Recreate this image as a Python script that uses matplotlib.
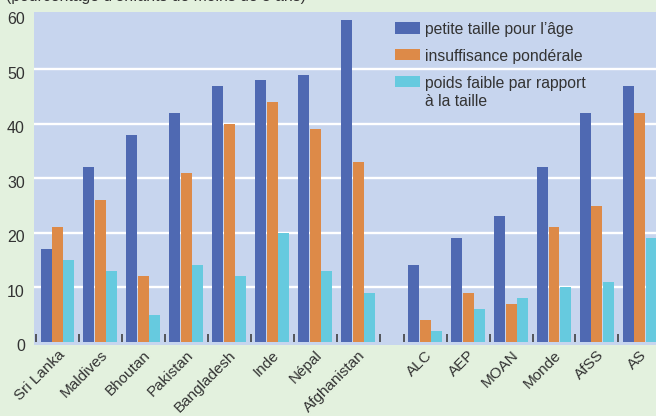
import numpy as np
import matplotlib
matplotlib.use('Agg')
import matplotlib.pyplot as plt
from matplotlib.transforms import ScaledTranslation

# ---------------- data ----------------
countries = ['Sri Lanka', 'Maldives', 'Bhoutan', 'Pakistan', 'Bangladesh',
             'Inde', 'Népal', 'Afghanistan']
regions = ['ALC', 'AEP', 'MOAN', 'Monde', 'AfSS', 'AS']
series_names = ['petite taille pour l’âge',
                'insuffisance pondérale',
                'poids faible par rapport\nà la taille']
stunting = [17, 32, 38, 42, 47, 48, 49, 59, 14, 19, 23, 32, 42, 47]
underweight = [21, 26, 12, 31, 40, 44, 39, 33, 4, 9, 7, 21, 25, 42]
wasting = [15, 13, 5, 14, 12, 20, 13, 9, 2, 6, 8, 10, 11, 19]
yticks = [0, 10, 20, 30, 40, 50, 60]
title = '(pourcentage d’enfants de moins de 5 ans)'

# ---------------- style ----------------
BG = '#E3F1DE'
AXBG = '#C7D5EE'
COLORS = ['#4F69B2', '#DD8A48', '#66CADF']
TXT = '#333333'
FS = 11.3

plt.rcParams['font.family'] = ['Liberation Sans', 'DejaVu Sans']

W, H = 656, 416
fig = plt.figure(figsize=(W / 100, H / 100), dpi=100, facecolor=BG)
ax = fig.add_axes([34 / W, (H - 344.5) / H, (W - 34) / W, (344.5 - 11.7) / H])
ax.set_facecolor(AXBG)

GAP = 0.56
x_c = np.arange(len(countries), dtype=float)
x_r = len(countries) + GAP + np.arange(len(regions), dtype=float)
xpos = np.concatenate([x_c, x_r])
labels = countries + regions

BW = 11 / 43
offsets = [-0.267, 0.0, 0.267]
containers = []
for vals, off, col, name in zip([stunting, underweight, wasting], offsets, COLORS, series_names):
    c = ax.bar(xpos + off, vals, width=BW, color=col, label=name, zorder=2, linewidth=0)
    containers.append(c)

ax.set_xlim(-0.547, 13.935)
ax.set_ylim(-0.5, 60.57)

# y axis
ax.set_yticks(yticks)
ax.set_yticklabels([str(v) for v in yticks], fontsize=11.5, color=TXT)
ax.tick_params(axis='y', length=0, pad=6.5)
ax.yaxis.grid(True, color='white', linewidth=1.7, zorder=1)
ax.set_axisbelow(True)
gl = ax.yaxis.get_gridlines()
gl[0].set_visible(False)
gl[-1].set_visible(False)
for lab in ax.get_yticklabels():
    lab.set_transform(lab.get_transform() + ScaledTranslation(0, -2.5 / 72, fig.dpi_scale_trans))

# x axis
for s in ax.spines.values():
    s.set_visible(False)
ax.spines['bottom'].set_position(('data', 0))
ax.set_xticks(xpos)
ax.set_xticklabels(labels, rotation=45, ha='right', va='center',
                   rotation_mode='anchor', fontsize=11.0, color=TXT)
ax.tick_params(axis='x', which='major', length=0, pad=8.0)
bounds = list(x_c - 0.5) + [x_c[-1] + 0.5] + list(x_r - 0.5)
ax.set_xticks(bounds, minor=True)
ax.tick_params(axis='x', which='minor', direction='in', length=6, width=1.1, color=TXT)
for lab in ax.get_xticklabels():
    lab.set_transform(lab.get_transform() + ScaledTranslation(3.5 / 72, 0, fig.dpi_scale_trans))

# legend
fpx = FS * 100 / 72
leg = ax.legend(handles=containers, loc='upper left',
                bbox_to_anchor=(395 / W, 1 - 22 / H), bbox_transform=fig.transFigure,
                frameon=False, borderpad=0, borderaxespad=0,
                handlelength=25 / fpx, handleheight=12 / fpx,
                handletextpad=5 / fpx, labelspacing=0.75, fontsize=FS)
for t in leg.get_texts():
    t.set_color(TXT)
    t.set_linespacing(1.28)
try:
    for col in leg._legend_handle_box.get_children():
        for row in col.get_children():
            row.align = 'top'
except Exception:
    pass

fig.text(6 / W, 1 - 1.0 / H, title, ha='left', va='baseline', fontsize=FS, color=TXT)

fig.savefig('out.png', dpi=100, facecolor=BG)
